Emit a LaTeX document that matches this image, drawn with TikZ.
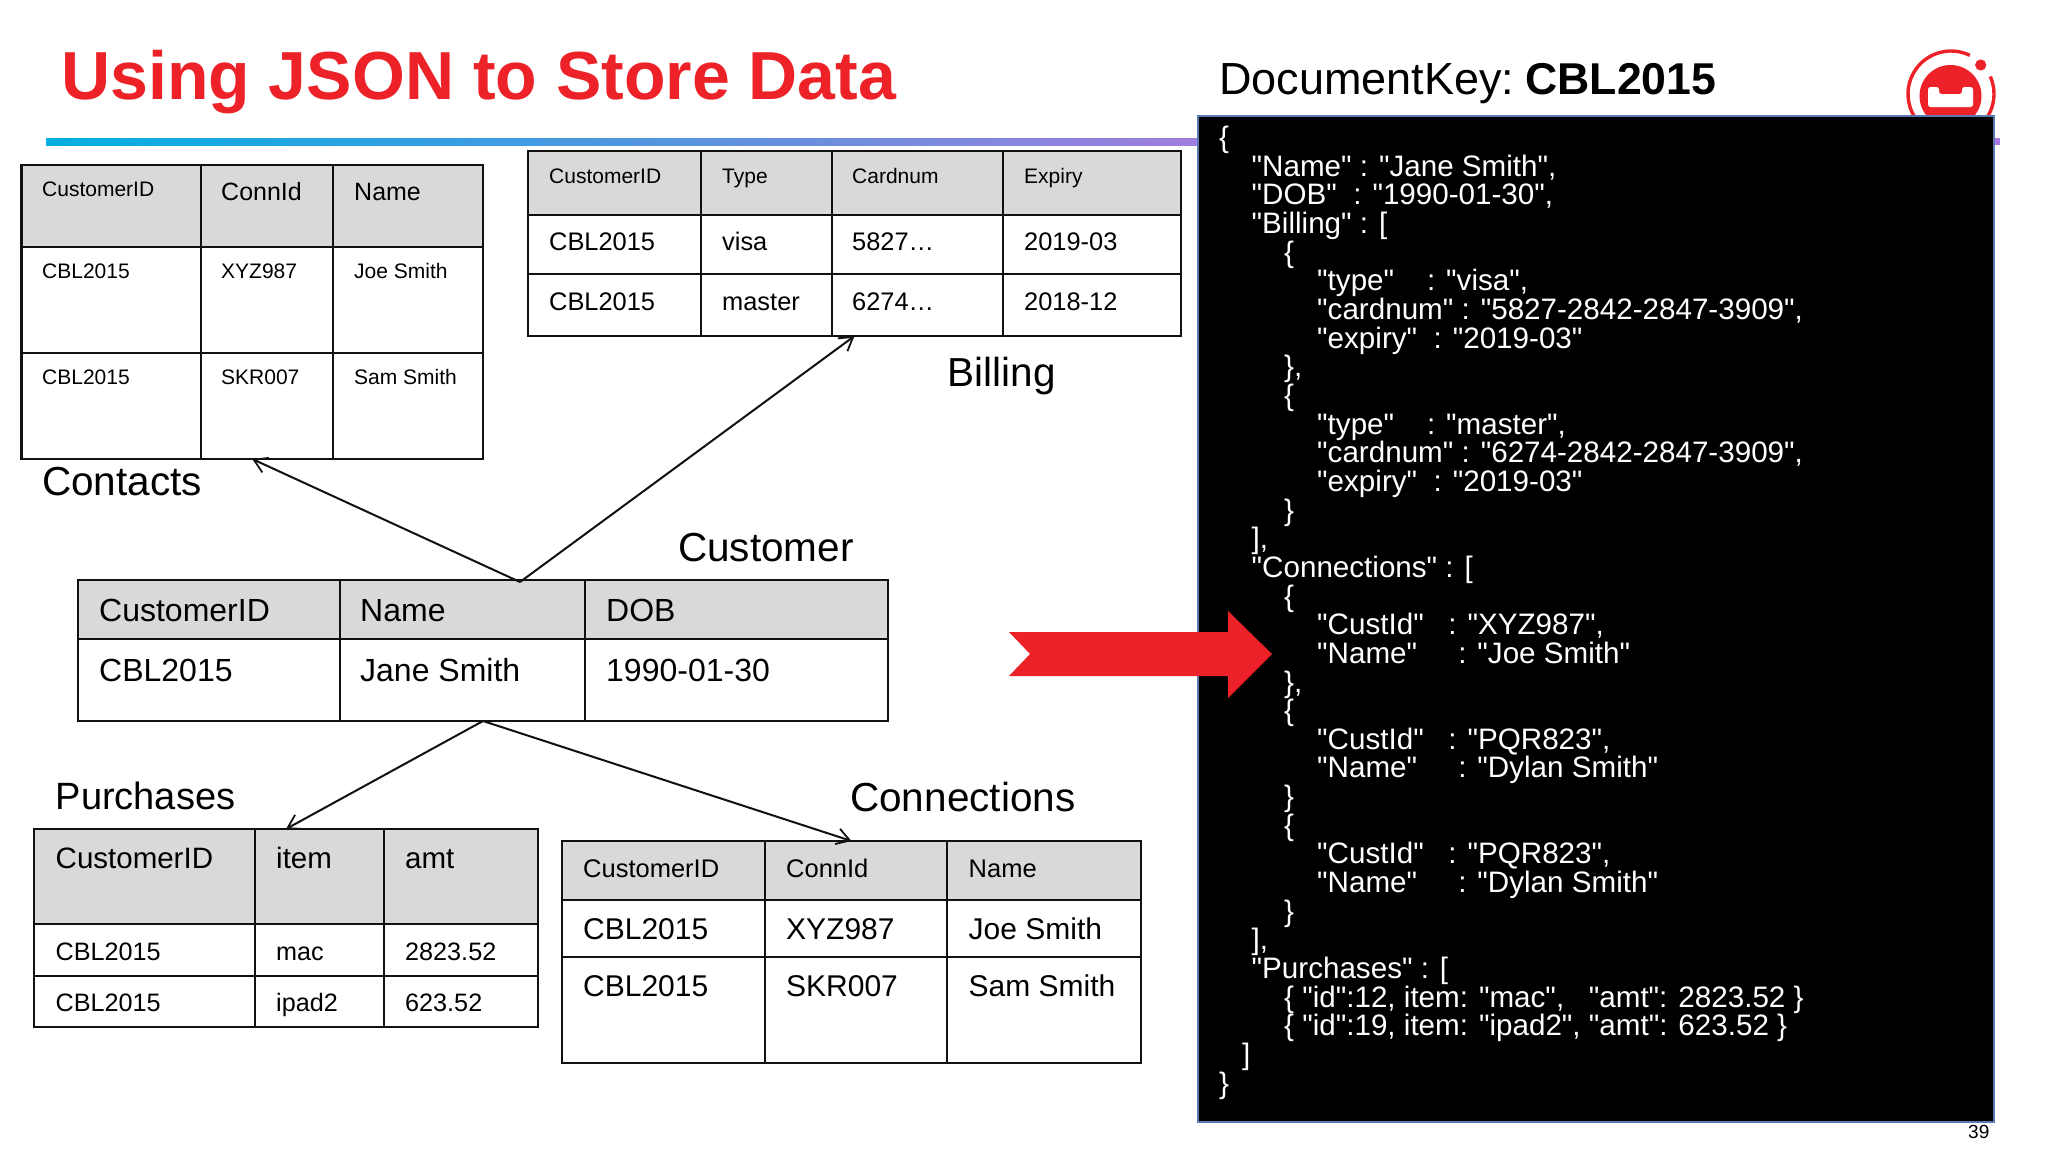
\documentclass[tikz,border=0pt]{standalone}
\usepackage{fontspec}
\setmainfont{Liberation Sans}
\newfontfamily\jsonfont{Liberation Sans}
\usetikzlibrary{arrows.meta}
\definecolor{cbred}{HTML}{ED2228}
\definecolor{hdr}{HTML}{D9D9D9}
\definecolor{ink}{HTML}{111111}
\definecolor{jsonedge}{HTML}{5B7BB0}
\definecolor{rulecyan}{RGB}{0,176,226}
\definecolor{rulepurple}{RGB}{160,125,222}
\definecolor{rulestub}{RGB}{170,120,225}
\newcommand{\fs}[1]{\fontsize{#1}{#1}\selectfont}
\newcommand{\lvl}[1]{\hspace*{#1pt}}
\tikzset{
  x=1pt,y=-1pt,
  tbl/.style={draw=ink,line width=2.4pt,rectangle,inner sep=0pt,outer sep=0pt,anchor=north west},
  grid/.style={draw=ink,line width=2pt},
  txt/.style={inner sep=0pt,anchor=base west,text=black},
  conn/.style={draw=ink,line width=2pt,-{Straight Barb[length=13pt,width=16pt,line width=1.8pt]}},
}
\begin{document}
\begin{tikzpicture}
\useasboundingbox (0,0) rectangle (2048,1152);
\fill[white] (0,0) rectangle (2048,1152);
% title & rule
\node[txt,font=\bfseries\fs{68},text=cbred] (title) at (61,99) {Using JSON to Store Data};
\shade[left color=rulecyan,right color=rulepurple] (46,138) rectangle (1198,145);
\fill[rulestub] (1198,138) rectangle (2000,145);
% logo
\begin{scope}
\clip (1890,30) rectangle (2010,117);
\draw[cbred,line width=3.4pt] (1951,94) ++(-64:43) arc[start angle=-64,end angle=-384,radius=43];
\fill[cbred] (1950.5,96) circle (31);
\fill[cbred] (1980.7,65) circle (5.6);
\fill[white,rounded corners=2.5pt] (1928,87) -- (1939,87) -- (1939,94) -- (1962,94) -- (1962,87) -- (1973,87) -- (1973,107) -- (1928,107) -- cycle;
\end{scope}
% CONTACTS
\fill[hdr] (21.5,165) rectangle (483,247);
\node[tbl,minimum width=461.5pt,minimum height=294pt] (contacts) at (21.5,165) {};
\draw[grid] (21.5,247) -- (483,247) (21.5,353) -- (483,353) (200.5,165) -- (200.5,459) (332.5,165) -- (332.5,459);
\node[txt,font=\fs{21}] (c1) at (42,196.5) {CustomerID};
\node[txt,font=\fs{25}] (c2) at (221,200) {ConnId};
\node[txt,font=\fs{25}] (c3) at (354,200) {Name};
\node[txt,font=\fs{21}] (c4) at (42,278) {CBL2015};
\node[txt,font=\fs{21}] (c5) at (221,278) {XYZ987};
\node[txt,font=\fs{21}] (c6) at (354,278) {Joe Smith};
\node[txt,font=\fs{21}] (c7) at (42,384) {CBL2015};
\node[txt,font=\fs{21}] (c8) at (221,384) {SKR007};
\node[txt,font=\fs{21}] (c9) at (354,384) {Sam Smith};
\node[txt,font=\fs{40.5}] (lcontacts) at (42,495) {Contacts};
% BILLING
\fill[hdr] (528,151) rectangle (1181,215);
\node[tbl,minimum width=653pt,minimum height=185pt] (billing) at (528,151) {};
\draw[grid] (528,215) -- (1181,215) (528,274) -- (1181,274) (701,151) -- (701,336) (831.5,151) -- (831.5,336) (1002.6,151) -- (1002.6,336);
\node[txt,font=\fs{21}] (b1) at (549,183) {CustomerID};
\node[txt,font=\fs{21}] (b2) at (722,183) {Type};
\node[txt,font=\fs{21}] (b3) at (852,183) {Cardnum};
\node[txt,font=\fs{21}] (b4) at (1024,183) {Expiry};
\node[txt,font=\fs{25.4}] (b5) at (549,250.5) {CBL2015};
\node[txt,font=\fs{25.4}] (b6) at (722,250.5) {visa};
\node[txt,font=\fs{25.4}] (b7) at (852,250.5) {5827…};
\node[txt,font=\fs{25.4}] (b8) at (1024,250.5) {2019-03};
\node[txt,font=\fs{25.4}] (b9) at (549,310.5) {CBL2015};
\node[txt,font=\fs{25.4}] (b10) at (722,310.5) {master};
\node[txt,font=\fs{25.4}] (b11) at (852,310.5) {6274…};
\node[txt,font=\fs{25.4}] (b12) at (1024,310.5) {2018-12};
\node[txt,font=\fs{40.5}] (lbilling) at (947.5,386.5) {Billing};
% CUSTOMER
\fill[hdr] (78,580) rectangle (888,639);
\node[tbl,minimum width=810pt,minimum height=141pt] (customer) at (78,580) {};
\draw[grid] (78,639) -- (888,639) (340,580) -- (340,721) (585,580) -- (585,721);
\node[txt,font=\fs{32}] (u1) at (99,621.5) {CustomerID};
\node[txt,font=\fs{32}] (u2) at (360,621.5) {Name};
\node[txt,font=\fs{32}] (u3) at (606,621.5) {DOB};
\node[txt,font=\fs{32}] (u4) at (99,681) {CBL2015};
\node[txt,font=\fs{32}] (u5) at (360,681) {Jane Smith};
\node[txt,font=\fs{32}] (u6) at (606,681) {1990-01-30};
\node[txt,font=\fs{40.5}] (lcustomer) at (678,561) {Customer};
% PURCHASES
\fill[hdr] (34,829) rectangle (538,924);
\node[tbl,minimum width=504pt,minimum height=198pt] (purchases) at (34,829) {};
\draw[grid] (34,924) -- (538,924) (34,976) -- (538,976) (255,829) -- (255,1027) (384,829) -- (384,1027);
\node[txt,font=\fs{29.5}] (p1) at (55.5,868) {CustomerID};
\node[txt,font=\fs{29.5}] (p2) at (276,868) {item};
\node[txt,font=\fs{29.5}] (p3) at (405,868) {amt};
\node[txt,font=\fs{25.2}] (p4) at (55.5,960.5) {CBL2015};
\node[txt,font=\fs{25.2}] (p5) at (276,960.5) {mac};
\node[txt,font=\fs{25.2}] (p6) at (405,960.5) {2823.52};
\node[txt,font=\fs{25.2}] (p7) at (55.5,1011.5) {CBL2015};
\node[txt,font=\fs{25.2}] (p8) at (276,1011.5) {ipad2};
\node[txt,font=\fs{25.2}] (p9) at (405,1011.5) {623.52};
\node[txt,font=\fs{38}] (lpurchases) at (55.5,809) {Purchases};
% CONNECTIONS
\fill[hdr] (562,841) rectangle (1141,900);
\node[tbl,minimum width=579pt,minimum height=222pt] (connections) at (562,841) {};
\draw[grid] (562,900) -- (1141,900) (562,957) -- (1141,957) (765,841) -- (765,1063) (947,841) -- (947,1063);
\node[txt,font=\fs{25.5}] (n1) at (583,877.5) {CustomerID};
\node[txt,font=\fs{25.5}] (n2) at (786,877.5) {ConnId};
\node[txt,font=\fs{25.5}] (n3) at (968.5,877.5) {Name};
\node[txt,font=\fs{30}] (n4) at (583,939.5) {CBL2015};
\node[txt,font=\fs{30}] (n5) at (786,939.5) {XYZ987};
\node[txt,font=\fs{30}] (n6) at (968.5,939.5) {Joe Smith};
\node[txt,font=\fs{30}] (n7) at (583,996) {CBL2015};
\node[txt,font=\fs{30}] (n8) at (786,996) {SKR007};
\node[txt,font=\fs{30}] (n9) at (968.5,996) {Sam Smith};
\node[txt,font=\fs{40.5}] (lconnections) at (850,811) {Connections};
% CONNECTORS
\coordinate (custtop) at (520,582);
\draw[conn] (custtop) -- (contacts.south);
\draw[conn] (custtop) -- (billing.south);
\draw[conn] (customer.south) -- (purchases.north);
\draw[conn] (customer.south) -- (connections.north);
% DOC
\node[txt,font=\fs{45}] (dockey) at (1219,94) {DocumentKey:\hspace{11pt}{\fs{44.6}\textbf{CBL2015}}};
\node[rectangle,draw=jsonedge,fill=black,line width=1.5pt,inner sep=0pt,outer sep=0pt,anchor=north west,minimum width=796pt,minimum height=1006pt] (jsonbox) at (1198,116) {};
\node[inner sep=0pt,anchor=north west,align=left,text=white,font=\jsonfont\fontsize{29.6}{28.65}\selectfont] (jsontext) at (1219,126) {%
\{\\
\lvl{32.5}"Name" : "Jane Smith",\\
\lvl{32.5}"DOB"~~: "1990-01-30",\\
\lvl{32.5}"Billing" : [\\
\lvl{65}\{\\
\lvl{98}"type"~~~~: "visa",\\
\lvl{98}"cardnum" : "5827-2842-2847-3909",\\
\lvl{98}"expiry"~~: "2019-03"\\
\lvl{65}\},\\
\lvl{65}\{\\
\lvl{98}"type"~~~~: "master",\\
\lvl{98}"cardnum" : "6274-2842-2847-3909",\\
\lvl{98}"expiry"~~: "2019-03"\\
\lvl{65}\}\\
\lvl{32.5}],\\
\lvl{32.5}"Connections" : [\\
\lvl{65}\{\\
\lvl{98}"CustId"~~~: "XYZ987",\\
\lvl{98}"Name"~~~~~: "Joe Smith"\\
\lvl{65}\},\\
\lvl{65}\{\\
\lvl{98}"CustId"~~~: "PQR823",\\
\lvl{98}"Name"~~~~~: "Dylan Smith"\\
\lvl{65}\}\\
\lvl{65}\{\\
\lvl{98}"CustId"~~~: "PQR823",\\
\lvl{98}"Name"~~~~~: "Dylan Smith"\\
\lvl{65}\}\\
\lvl{32.5}],\\
\lvl{32.5}"Purchases" : [\\
\lvl{65}\{ "id":12, item: "mac",~~~"amt": 2823.52 \}\\
\lvl{65}\{ "id":19, item: "ipad2", "amt": 623.52 \}\\
\lvl{23}]\\
\}};
\fill[cbred] (1009,632) -- (1228,632) -- (1228,611) -- (1272,654) -- (1228,698) -- (1228,676) -- (1009,676) -- (1030,654) -- cycle;
\node[txt,font=\fs{19}] (pageno) at (1968,1138) {39};
\end{tikzpicture}
\end{document}
